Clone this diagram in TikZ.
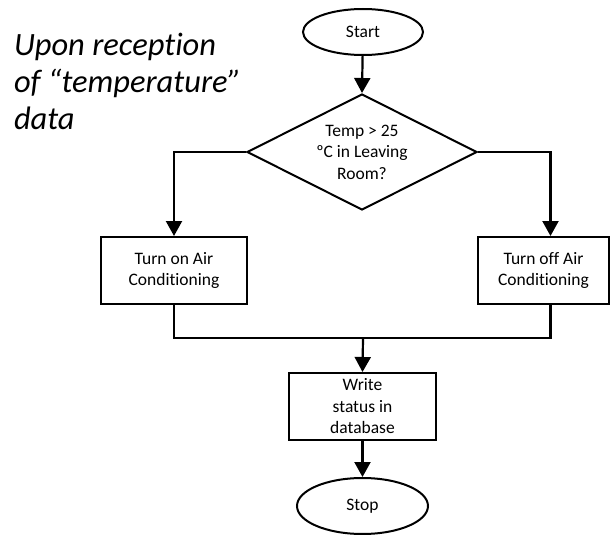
\documentclass[tikz,border=0pt]{standalone}
\usepackage{fontspec}
\setmainfont{Carlito}[Ligatures=NoCommon]
\usetikzlibrary{shapes.geometric,arrows.meta}

\begin{document}
\begin{tikzpicture}[x=1pt,y=-1pt,
  every node/.style={font=\fontsize{17.5}{21.5}\selectfont, align=center, line width=2pt},
  terminal/.style={draw, ellipse, inner sep=0pt},
  process/.style={draw, rectangle, inner sep=0pt},
  decision/.style={draw, diamond, aspect=2, inner sep=0pt, minimum width=230pt, minimum height=116pt},
  flow/.style={line width=2.2pt},
  arrow/.style={flow, -{Triangle[width=16pt,length=15pt]}}
]
\useasboundingbox (0,0) rectangle (614,535);

% caption
\node[anchor=base west, align=left, inner sep=0pt, font=\fontsize{32.5}{37.5}\selectfont\itshape] (note) at (13,130)
  {Upon reception\\of “temperature”\\data};

% flowchart nodes
\node[terminal, minimum width=120pt, minimum height=46pt] (start) at (363,32) {Start};
\node[decision] (dec) at (362,152) {Temp > 25\\ºC in Leaving\\Room?};
\node[process, minimum width=146pt, minimum height=67pt] (onbox) at (174,270.5) {Turn on Air\\Conditioning};
\node[process, minimum width=131pt, minimum height=67pt] (offbox) at (543.5,270.5) {Turn off Air\\Conditioning};
\node[process, minimum width=147pt, minimum height=67pt] (write) at (362.5,406.5) {Write\\status in\\database};
\node[terminal, minimum width=131pt, minimum height=56pt] (stop) at (362.5,506) {Stop};

\coordinate (join) at (363,338);
\coordinate (offin) at ([xshift=7pt]offbox.north);
\coordinate (offout) at ([xshift=7pt]offbox.south);

% connectors
\draw[arrow] (start) -- (dec.north);
\draw[arrow] (dec.west) -| (onbox.north);
\draw[arrow] (dec.east) -| (offin);
\draw[flow] (onbox.south) |- (join);
\draw[flow] (offout) |- (join);
\draw[arrow] (join) -- (write.north);
\draw[arrow] (write) -- (stop.north);
\end{tikzpicture}
\end{document}
